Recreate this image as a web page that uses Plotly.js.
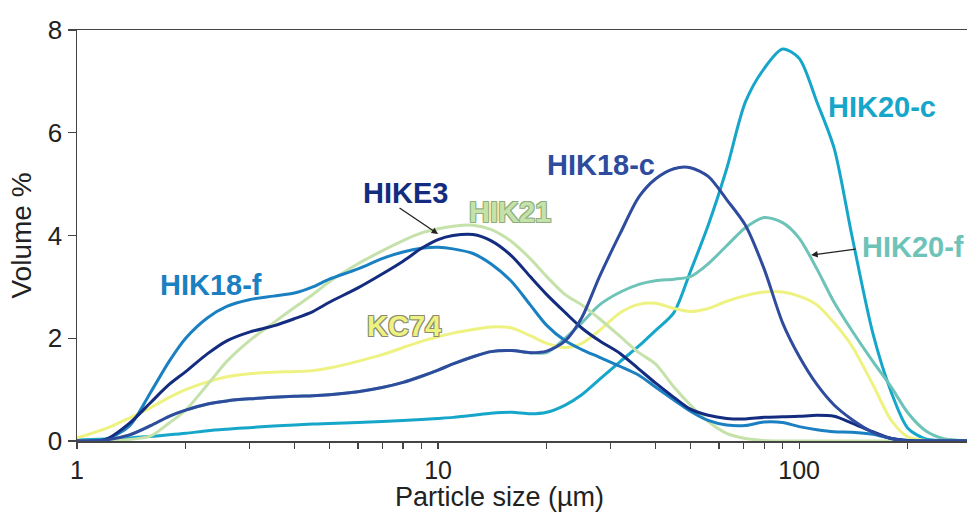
<!DOCTYPE html>
<html>
<head>
<meta charset="utf-8">
<script src="https://cdn.plot.ly/plotly-3.0.1.min.js"></script>
<style>html,body{margin:0;padding:0;background:#fff;}#chart{width:967px;height:512px;}</style>
</head>
<body>
<div id="chart"></div>
<script>
// Particle size grid (µm)
const sizes = [1, 1.2, 1.4, 1.6, 1.8, 2, 2.3, 2.6, 3, 3.5, 4, 4.5, 5, 6, 7, 8, 9, 10, 11, 12.5, 14, 16, 18, 20, 22.5, 25, 28, 32, 36, 40, 45, 50, 56, 63, 71, 80, 90, 100, 112, 125, 140, 160, 180, 200, 224, 250, 280, 294];

// Volume % per sample
const hik18f = [0, 0.03, 0.3, 0.95, 1.55, 2.0, 2.4, 2.62, 2.75, 2.82, 2.88, 3.0, 3.15, 3.35, 3.55, 3.68, 3.75, 3.77, 3.74, 3.65, 3.45, 3.1, 2.65, 2.25, 1.95, 1.78, 1.63, 1.45, 1.28, 1.05, 0.8, 0.58, 0.4, 0.31, 0.3, 0.37, 0.36, 0.28, 0.22, 0.18, 0.17, 0.13, 0.05, 0.01, 0, 0, 0, 0];
const hike3 = [0, 0.03, 0.35, 0.75, 1.1, 1.35, 1.7, 1.95, 2.12, 2.24, 2.38, 2.52, 2.7, 2.98, 3.25, 3.5, 3.75, 3.92, 4.0, 4.02, 3.9, 3.6, 3.2, 2.85, 2.5, 2.2, 1.95, 1.7, 1.4, 1.13, 0.85, 0.62, 0.5, 0.44, 0.43, 0.46, 0.47, 0.48, 0.5, 0.48, 0.35, 0.18, 0.05, 0.01, 0, 0, 0, 0];
const hik21 = [0, 0, 0.03, 0.1, 0.35, 0.6, 1.1, 1.55, 1.95, 2.3, 2.6, 2.85, 3.1, 3.45, 3.7, 3.9, 4.05, 4.13, 4.18, 4.2, 4.12, 3.88, 3.55, 3.2, 2.85, 2.65, 2.38, 2.03, 1.72, 1.5, 1.05, 0.7, 0.38, 0.15, 0.05, 0.01, 0, 0, 0, 0, 0, 0, 0, 0, 0, 0, 0, 0];
const kc74 = [0.06, 0.24, 0.45, 0.65, 0.85, 1.0, 1.15, 1.25, 1.31, 1.34, 1.35, 1.37, 1.42, 1.55, 1.68, 1.82, 1.94, 2.03, 2.1, 2.17, 2.22, 2.2, 2.05, 1.9, 1.82, 1.9, 2.15, 2.5, 2.66, 2.68, 2.58, 2.52, 2.58, 2.72, 2.83, 2.9, 2.9, 2.82, 2.65, 2.3, 1.85, 1.1, 0.4, 0.08, 0.01, 0, 0, 0];
const hik18c = [0, 0.02, 0.12, 0.3, 0.48, 0.6, 0.72, 0.78, 0.82, 0.85, 0.87, 0.88, 0.9, 0.96, 1.04, 1.14, 1.26, 1.38, 1.5, 1.64, 1.74, 1.76, 1.72, 1.75, 1.95, 2.4, 3.2, 4.05, 4.75, 5.1, 5.3, 5.32, 5.15, 4.7, 4.2, 3.35, 2.3, 1.65, 1.1, 0.7, 0.42, 0.17, 0.05, 0, 0, 0, 0, 0];
const hik20f = [0, 0.02, 0.12, 0.3, 0.48, 0.6, 0.72, 0.78, 0.82, 0.85, 0.87, 0.88, 0.9, 0.96, 1.04, 1.14, 1.26, 1.38, 1.5, 1.64, 1.74, 1.76, 1.72, 1.72, 2.0, 2.3, 2.65, 2.9, 3.05, 3.12, 3.15, 3.2, 3.45, 3.8, 4.15, 4.35, 4.25, 3.95, 3.35, 2.7, 2.15, 1.55, 1.05, 0.55, 0.2, 0.05, 0.01, 0];
const hik20c = [0.02, 0.04, 0.06, 0.09, 0.12, 0.15, 0.2, 0.23, 0.26, 0.29, 0.31, 0.33, 0.34, 0.36, 0.38, 0.4, 0.42, 0.44, 0.46, 0.5, 0.54, 0.56, 0.53, 0.56, 0.7, 0.9, 1.2, 1.55, 1.85, 2.15, 2.5, 3.3, 4.2, 5.3, 6.6, 7.25, 7.63, 7.45, 6.6, 5.7, 4.0, 2.1, 0.95, 0.25, 0.04, 0.01, 0, 0];

const seriesNames = ['HIK20-c', 'HIK20-f', 'KC74', 'HIK21', 'HIK18-f', 'HIKE3', 'HIK18-c'];
const seriesValues = [hik20c, hik20f, kc74, hik21, hik18f, hike3, hik18c];
const seriesColors = ['#16a6c9', '#6dc3b8', '#eef281', '#c5e2ab', '#1b80c1', '#142c7f', '#2e4b9e'];

// Tick labels
const yTicks = [0, 2, 4, 6, 8];
const xTickVals = [1, 2, 3, 4, 5, 6, 7, 8, 9, 10, 20, 30, 40, 50, 60, 70, 80, 90, 100, 200];
const xTickText = xTickVals.map(v => (v === 1 || v === 10 || v === 100) ? String(v) : '');
const xTitle = 'Particle size (µm)';
const yTitle = 'Volume %';

const traces = seriesNames.map((n, i) => ({
  x: sizes, y: seriesValues[i], name: n, type: 'scatter', mode: 'lines',
  line: {color: seriesColors[i], width: 3, shape: 'spline', smoothing: 0.8},
  hoverinfo: 'x+y+name'
}));

const F = '"Liberation Sans", Arial, sans-serif';
function outline(c) {
  return `-1px -1px 0 ${c}, 1px -1px 0 ${c}, -1px 1px 0 ${c}, 1px 1px 0 ${c}`;
}
const L = Math.log10;
const annotations = [
  {x: L(2.35), y: 3.03, text: 'HIK18-f', color: '#1b80c1'},
  {x: L(8.1), y: 4.82, text: 'HIKE3', color: '#142c7f'},
  {x: L(15.8), y: 4.46, text: 'HIK21', color: '#c5e2ab', shadow: outline('#8fae7c')},
  {x: L(8.05), y: 2.24, text: 'KC74', color: '#eef281', shadow: outline('#8a8a70')},
  {x: L(28.3), y: 5.37, text: 'HIK18-c', color: '#2e4b9e'},
  {x: L(170), y: 6.5, text: 'HIK20-c', color: '#16a6c9'},
  {x: L(207), y: 3.77, text: 'HIK20-f', color: '#6dc3b8'}
].map(a => ({
  x: a.x, y: a.y, xref: 'x', yref: 'y', text: '<b>' + a.text + '</b>', showarrow: false,
  xanchor: 'center', yanchor: 'middle',
  font: Object.assign({family: F, size: 29, color: a.color}, a.shadow ? {shadow: a.shadow} : {})
}));
annotations.push({x: 1.0, y: 4.03, xref: 'x', yref: 'y', text: '', showarrow: true,
  arrowhead: 2, arrowsize: 1, arrowwidth: 1.3, arrowcolor: '#222', ax: -40, ay: -27, standoff: 0});
annotations.push({x: L(108), y: 3.62, xref: 'x', yref: 'y', text: '', showarrow: true,
  arrowhead: 2, arrowsize: 1, arrowwidth: 1.3, arrowcolor: '#222', ax: 46, ay: -6, standoff: 0});
// x-axis title, placed at the bottom edge, slightly left of centre as in the reference
annotations.push({x: (499 - 77) / 890, y: -71 / 411, xref: 'paper', yref: 'paper',
  text: xTitle, showarrow: false, xanchor: 'center', yanchor: 'bottom', yshift: -2,
  font: {family: F, size: 27, color: '#222'}});

const layout = {
  width: 967, height: 512,
  margin: {l: 77, r: 0, t: 30, b: 71},
  paper_bgcolor: '#fff', plot_bgcolor: '#fff',
  showlegend: false,
  font: {family: F, color: '#222'},
  xaxis: {
    type: 'log', range: [0, 2.465], showgrid: false, zeroline: false,
    showline: true, linecolor: '#444', linewidth: 1.5, mirror: true,
    ticks: 'outside', ticklen: 6, tickwidth: 1.2, tickcolor: '#444',
    tickvals: xTickVals, ticktext: xTickText,
    tickfont: {family: F, size: 25, color: '#222'}
  },
  yaxis: {
    range: [0, 8], showgrid: false, zeroline: false,
    showline: true, linecolor: '#444', linewidth: 1.5,
    ticks: 'outside', ticklen: 8, tickwidth: 1.2, tickcolor: '#444',
    tickvals: yTicks, ticktext: yTicks.map(String),
    tickfont: {family: F, size: 26, color: '#222'},
    title: {text: yTitle, font: {family: F, size: 28, color: '#222'}, standoff: 8}
  },
  annotations: annotations
};

Plotly.newPlot('chart', traces, layout, {staticPlot: true, displayModeBar: false});
</script>
</body>
</html>
